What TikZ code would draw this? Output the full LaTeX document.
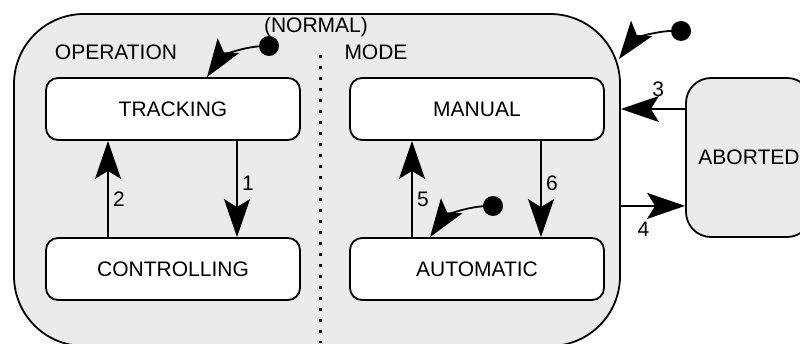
\documentclass[tikz,border=0pt]{standalone}
\usepackage{fontspec}
\setmainfont{Liberation Sans}
\usetikzlibrary{arrows.meta}
\definecolor{stateGray}{RGB}{235,235,235}
\newcommand{\StateText}[1]{{\fontsize{21}{24}\selectfont #1}}

\begin{document}
\begin{tikzpicture}[x=1pt,y=1pt,
  substate/.style={draw,line width=1.8pt,fill=white,rounded corners=12pt,minimum width=254pt,minimum height=62pt,inner sep=0pt},
  trans/.style={line width=1.8pt,-{Stealth[length=38pt,width=26pt,inset=8pt]}},
  initdot/.style={circle,fill=black,minimum size=20pt,inner sep=0pt}]
\clip (0,0) rectangle (800,343);
\node[draw,line width=1.8pt,fill=stateGray,rounded corners=70pt,minimum width=606pt,minimum height=332pt,inner sep=0pt] (normal) at (317,163) {};
\node[draw,line width=1.8pt,fill=stateGray,rounded corners=25pt,minimum width=126pt,minimum height=159pt,inner sep=0pt] (aborted) at (749,185.5) {\StateText{ABORTED}};
\draw[line width=3pt,dash pattern=on 3pt off 8pt] (320,288) -- (320,0);
\node (operation) at (116,291) {\StateText{OPERATION}};
\node (mode) at (376,291) {\StateText{MODE}};
\node (normallabel) at (316,316) {\StateText{(NORMAL)}};
\node[substate] (tracking) at (173,234) {\StateText{TRACKING}};
\node[substate] (controlling) at (173,74) {\StateText{CONTROLLING}};
\node[substate] (manual) at (477,234) {\StateText{MANUAL}};
\node[substate] (automatic) at (477,74) {\StateText{AUTOMATIC}};
\node[initdot] (initnormal) at (269,297) {};
\node[initdot] (inittop) at (681,312) {};
\node[initdot] (initauto) at (493,137) {};
\coordinate (entry) at ([shift={(-2pt,-46pt)}]normal.north east);
\coordinate (exit) at ([yshift=32pt]aborted.south west);
\draw[trans] (initnormal) to[bend right=25] ([xshift=34pt]tracking.north);
\draw[trans] (inittop) to[bend right=25] (entry);
\draw[trans] (initauto) to[bend right=25] ([xshift=-47pt]automatic.north);
\draw[trans] ([xshift=64pt]tracking.south) -- ([xshift=64pt]controlling.north) node[pos=0.44,right=1pt] {\StateText{1}};
\draw[trans] ([xshift=-65pt]controlling.north) -- ([xshift=-65pt]tracking.south) node[pos=0.39,right=1pt] {\StateText{2}};
\draw[trans] ([xshift=-65pt]automatic.north) -- ([xshift=-65pt]manual.south) node[pos=0.39,right=1pt] {\StateText{5}};
\draw[trans] ([xshift=64pt]manual.south) -- ([xshift=64pt]automatic.north) node[pos=0.44,right=1pt] {\StateText{6}};
\draw[trans] (aborted.west |- manual) -- (normal.east |- manual) node[pos=0.42,above=8pt] {\StateText{3}};
\draw[trans] (normal.east |- exit) -- (exit) node[pos=0.35,below=12pt] {\StateText{4}};
\end{tikzpicture}
\end{document}
